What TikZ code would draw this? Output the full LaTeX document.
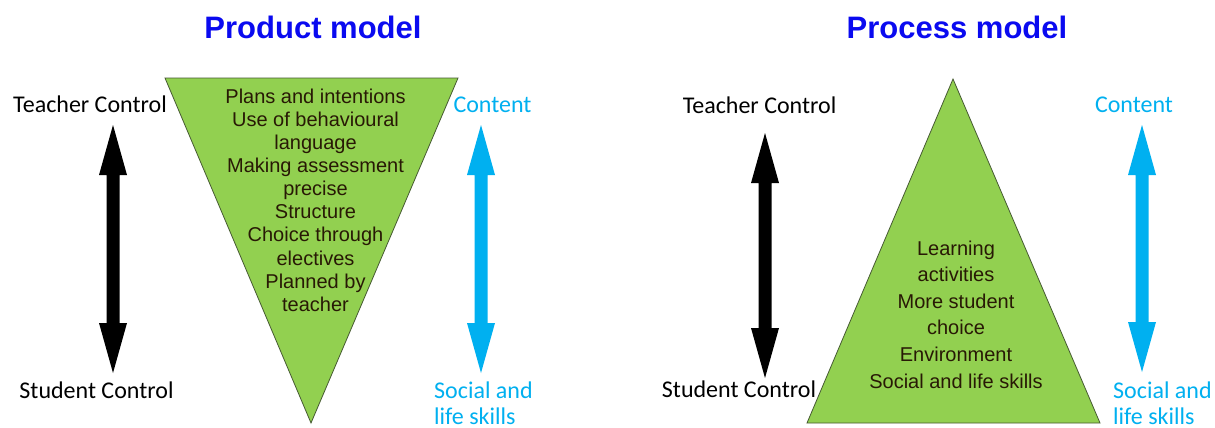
\documentclass[tikz,border=0pt]{standalone}
\usepackage{fontspec}
\newfontfamily\labfont{Carlito}
\newfontfamily\bodyfont{Liberation Sans}
\definecolor{tgreen}{RGB}{146,208,80}
\definecolor{tedge}{RGB}{70,90,50}
\definecolor{cblue}{RGB}{0,176,240}
\definecolor{tblue}{RGB}{10,10,240}
\definecolor{ttext}{RGB}{40,25,5}
\newcommand\vdarrow[4]{%
 \fill[#4] (#1,#2) -- (#1+14,#2+50) -- (#1+6.5,#2+50) -- (#1+6.5,#3-50) -- (#1+14,#3-50) -- (#1,#3) -- (#1-14,#3-50) -- (#1-6.5,#3-50) -- (#1-6.5,#2+50) -- (#1-14,#2+50) -- cycle;}
\begin{document}
\begin{tikzpicture}[x=1pt,y=-1pt,
 title/.style={font=\bodyfont\bfseries\fontsize{31}{36}\selectfont, text=tblue, anchor=base, inner sep=0},
 lab/.style={font=\labfont\fontsize{24}{28}\selectfont, inner sep=0, anchor=base},
 clab/.style={lab, text=cblue},
 body/.style={font=\bodyfont\fontsize{20}{24}\selectfont, text=ttext, anchor=base, inner sep=0},
 tri/.style={fill=tgreen, draw=tedge, line width=0.8pt, line join=miter}]
\fill[white] (0,0) rectangle (1215,428);
\useasboundingbox (0,0) rectangle (1215,428);

% titles
\node[title] (t1) at (313,39) {Product model};
\node[title] (t2) at (957,39) {Process model};

% triangles
\draw[tri] (165,78) -- (458,78) -- (311,423) -- cycle;
\draw[tri] (953,79) -- (1100,423) -- (807,423) -- cycle;

% arrows
\vdarrow{113}{125}{373}{black}
\vdarrow{481}{125}{373}{cblue}
\vdarrow{765}{133}{378}{black}
\vdarrow{1142}{125}{372}{cblue}

% left labels
\node[lab] (tc1) at (90,112) {Teacher Control};
\node[lab] (sc1) at (96.5,398) {Student Control};
\node[clab] (c1) at (492.5,112) {Content};
\node[clab, anchor=base west] (s1) at (434,398) {Social and};
\node[clab, anchor=base west, text depth=0pt] (s1b) at (434,424) {life skills};

% right labels
\node[lab] (tc2) at (759.5,113) {Teacher Control};
\node[lab] (sc2) at (739,397) {Student Control};
\node[clab] (c2) at (1134,112) {Content};
\node[clab, anchor=base west] (s2) at (1113,398) {Social and};
\node[clab, anchor=base west, text depth=0pt] (s2b) at (1113,424) {life skills};

% triangle texts
\foreach \t [count=\i] in {Plans and intentions, Use of behavioural, language, Making assessment, precise, Structure, Choice through, electives, Planned by, teacher}
  \node[body] (pl\i) at (315.5,{103.3+23.1*(\i-1)}) {\t};
\foreach \t [count=\i] in {Learning, activities, More student, choice, Environment, Social and life skills}
  \node[body] (pr\i) at (956,{255+26.6*(\i-1)}) {\t};
\end{tikzpicture}
\end{document}
